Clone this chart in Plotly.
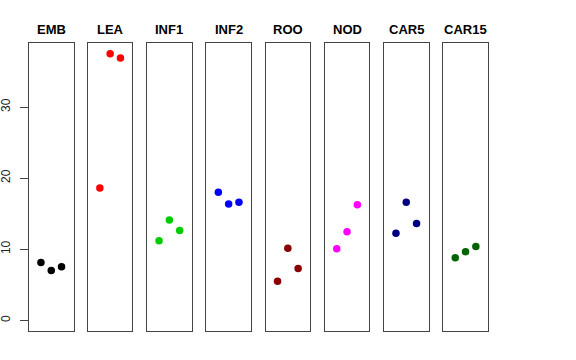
import plotly.graph_objects as go

categories = ["EMB", "LEA", "INF1", "INF2", "ROO", "NOD", "CAR5", "CAR15"]
replicates = [1, 2, 3]
values = {
    "EMB": [8.15, 7.0, 7.55],
    "LEA": [18.6, 37.5, 36.9],
    "INF1": [11.2, 14.1, 12.65],
    "INF2": [18.0, 16.35, 16.6],
    "ROO": [5.5, 10.15, 7.3],
    "NOD": [10.05, 12.45, 16.25],
    "CAR5": [12.25, 16.6, 13.6],
    "CAR15": [8.8, 9.65, 10.4],
}
colors = ["#000000", "#FF0000", "#00CD00", "#0000FF", "#8B0000", "#FF00FF", "#000080", "#006400"]
y_ticks = [0, 10, 20, 30]

W, H = 576, 360
panel_left = [29, 87.9, 147.1, 206.4, 265.6, 324.8, 384.0, 443.3]
panel_w = 44.5
top_px, bot_px = 43, 331

fig = go.Figure()
layout = {}
for i, cat in enumerate(categories):
    n = i + 1
    xa = "x" if n == 1 else f"x{n}"
    ya = "y" if n == 1 else f"y{n}"
    fig.add_trace(go.Scatter(
        x=replicates, y=values[cat], mode="markers",
        marker=dict(color=colors[i], size=7.5, line=dict(width=0)),
        xaxis=xa, yaxis=ya, showlegend=False, hoverinfo="skip"))
    x0 = panel_left[i] / W
    x1 = (panel_left[i] + panel_w) / W
    layout["xaxis" if n == 1 else f"xaxis{n}"] = dict(
        domain=[x0, x1], range=[-0.16, 4.16], showgrid=False, zeroline=False,
        showticklabels=False, ticks="", showline=True, mirror=True,
        linecolor="#444444", linewidth=1, anchor=ya, fixedrange=True)
    yd = dict(
        domain=[1 - bot_px / H, 1 - top_px / H], range=[-1.5, 39.0],
        showgrid=False, zeroline=False, showline=True, mirror=True,
        linecolor="#444444", linewidth=1, anchor=xa, fixedrange=True)
    if n == 1:
        yd.update(tickvals=y_ticks, ticks="outside", ticklen=8, tickcolor="#444444",
                  tickangle=-90, ticklabelstandoff=5,
                  tickfont=dict(size=12, color="#222222",
                  family="Liberation Sans, Arial, sans-serif"), automargin=False)
    else:
        yd.update(showticklabels=False, ticks="")
    layout["yaxis" if n == 1 else f"yaxis{n}"] = yd
    fig.add_annotation(
        text=f"<b>{cat}</b>", x=(x0 + x1) / 2, y=1 - 29 / H, xref="paper", yref="paper",
        showarrow=False, xanchor="center", yanchor="middle",
        font=dict(size=13, color="black", family="Liberation Sans, Arial, sans-serif"))

fig.update_layout(
    width=W, height=H, margin=dict(l=0, r=0, t=0, b=0),
    paper_bgcolor="white", plot_bgcolor="white", hovermode=False, **layout)

fig.write_html("out.html", config={"displayModeBar": False, "staticPlot": True},
               post_script="document.body.style.margin='0px';")
